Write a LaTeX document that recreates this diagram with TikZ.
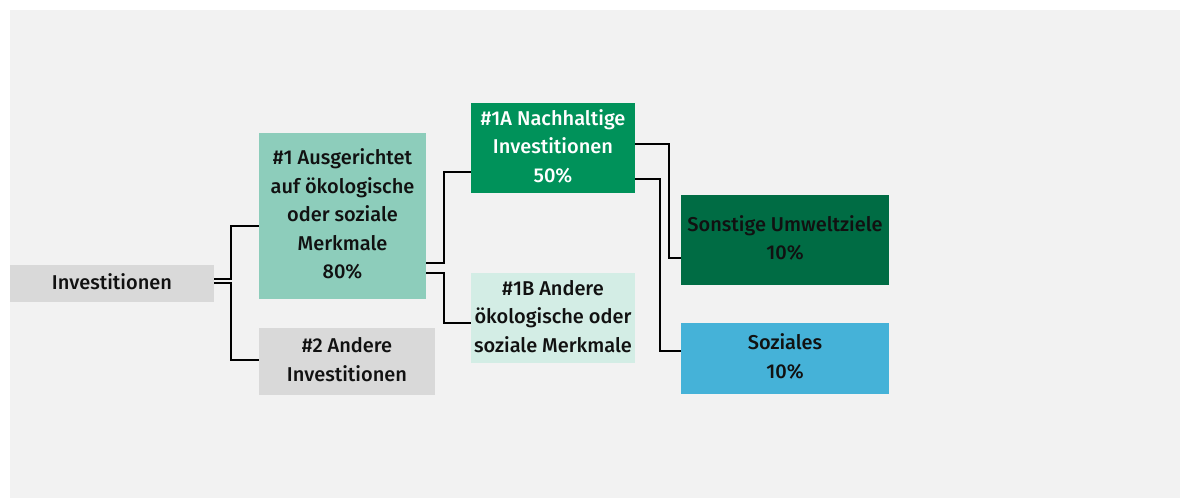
\documentclass[tikz,border=0pt]{standalone}
\usepackage{fontspec}
\setmainfont{Fira Sans}[UprightFont={* Medium}]
\definecolor{bg}{HTML}{F2F2F2}
\definecolor{greybox}{HTML}{D9D9D9}
\definecolor{mint}{HTML}{8DCDBB}
\definecolor{green1a}{HTML}{00925A}
\definecolor{mint1b}{HTML}{D3EDE5}
\definecolor{darkgreen}{HTML}{006C44}
\definecolor{skyblue}{HTML}{45B2D8}
\definecolor{txt}{HTML}{111111}
\newcommand{\boxtext}[2]{\raisebox{#1pt}{\begin{tabular}{@{}c@{}}#2\end{tabular}}}
\begin{document}
\begin{tikzpicture}[x=1pt,y=-1pt,
  box/.style={rectangle, draw=none, inner sep=0pt, align=center, text=txt,
    font=\fontsize{20}{28.4}\selectfont},
  conn/.style={draw=black, line width=2.2pt}]
\useasboundingbox (0,0) rectangle (1181,499);
\fill[bg] (10,10) rectangle (1180,498);

\node[box, fill=greybox, minimum width=204, minimum height=37] (inv) at (112,283.5) {\boxtext{3}{Investitionen}};
\node[box, fill=mint, minimum width=167, minimum height=166] (n1) at (342.5,216) {\boxtext{3}{\#1 Ausgerichtet\\auf ökologische\\oder soziale\\Merkmale\\80\%}};
\node[box, fill=greybox, minimum width=176, minimum height=67] (n2) at (347,361.5) {\boxtext{4}{\#2 Andere\\Investitionen}};
\node[box, fill=green1a, text=white, minimum width=164, minimum height=90] (n1a) at (553,148) {\boxtext{7}{\#1A Nachhaltige\\Investitionen\\50\%}};
\node[box, fill=mint1b, minimum width=164, minimum height=90] (n1b) at (553,318) {\boxtext{4}{\#1B Andere\\ökologische oder\\soziale Merkmale}};
\node[box, fill=darkgreen, minimum width=208, minimum height=90] (son) at (785,240) {\boxtext{7}{Sonstige Umweltziele\\10\%}};
\node[box, fill=skyblue, minimum width=208, minimum height=71] (soz) at (785,358.5) {\boxtext{4.5}{Soziales\\10\%}};

\draw[conn] (inv.east |- 0,279) -- (231,279) |- (n1.west |- 0,226);
\draw[conn] (inv.east |- 0,283) -- (231,283) |- (n2.west |- 0,360);
\draw[conn] (n1.east |- 0,263) -- (444,263) |- (n1a.west |- 0,172);
\draw[conn] (n1.east |- 0,273) -- (444,273) |- (n1b.west |- 0,323);
\draw[conn] (n1a.east |- 0,144) -- (669,144) |- (son.west |- 0,258);
\draw[conn] (n1a.east |- 0,179) -- (660,179) |- (soz.west |- 0,351);
\end{tikzpicture}
\end{document}
